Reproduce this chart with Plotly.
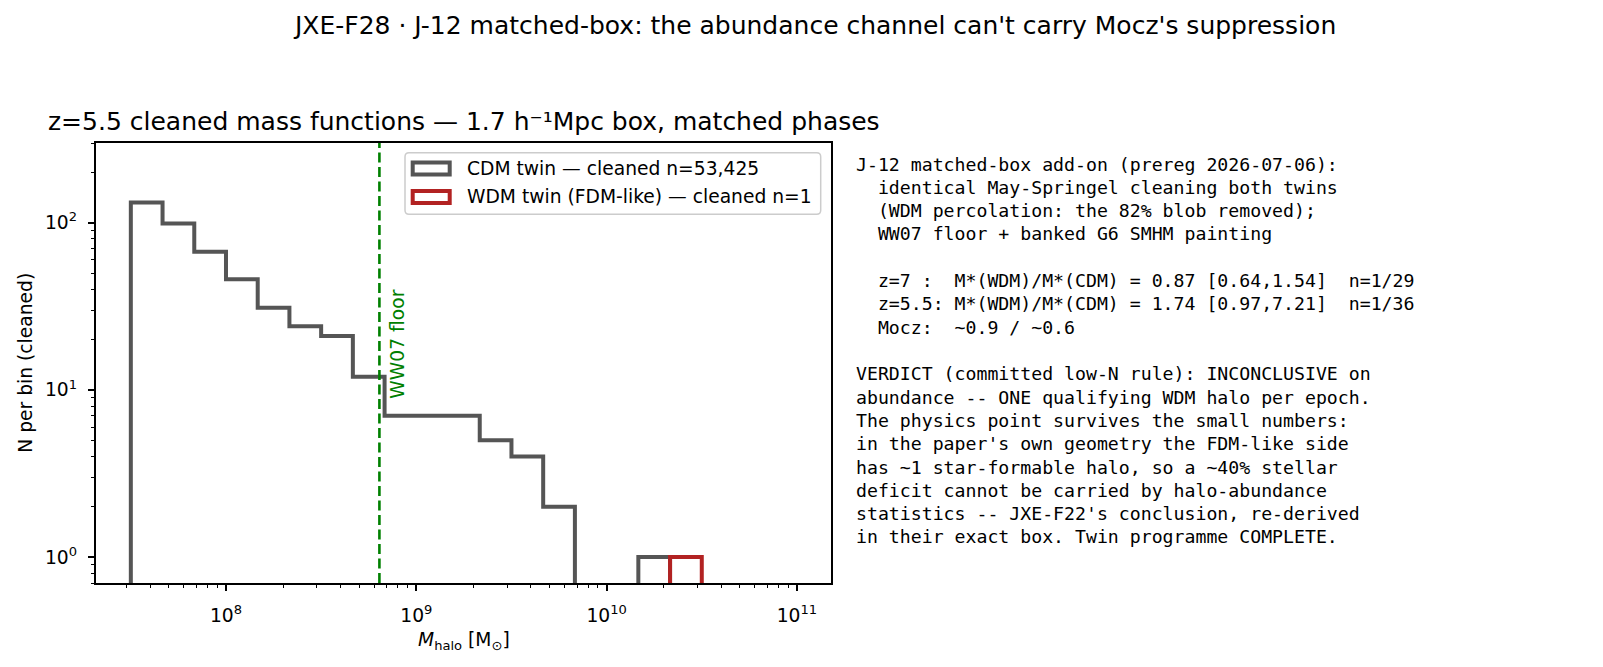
import numpy as np
import plotly.graph_objects as go

# histogram bins: 1/6 dex from 10^7.5
log_edges = [7.5 + i / 6 for i in range(22)]
cdm_counts = [132, 99, 67, 46, 31, 24, 21, 12, 7, 7, 7, 5, 4, 2, 0, 0, 1, 0, 0, 0, 0]
wdm_counts = [0, 0, 0, 0, 0, 0, 0, 0, 0, 0, 0, 0, 0, 0, 0, 0, 0, 1, 0, 0, 0]

cdm_label = "CDM twin \u2014 cleaned n=53,425"
wdm_label = "WDM twin (FDM-like) \u2014 cleaned n=1"
floor_mass = 6.4e8
floor_label = "WW07 floor"

x_major = [1e8, 1e9, 1e10, 1e11]
x_major_text = ["10<sup>8</sup>", "10<sup>9</sup>", "10<sup>10</sup>", "10<sup>11</sup>"]
y_major = [1, 10, 100]
y_major_text = ["10<sup>0</sup>", "10<sup>1</sup>", "10<sup>2</sup>"]

suptitle = "JXE-F28 \u00b7 J-12 matched-box: the abundance channel can't carry Mocz's suppression"
ax_title = "z=5.5 cleaned mass functions \u2014 1.7 h\u207b\u00b9Mpc box, matched phases"

notes = [
    "J-12 matched-box add-on (prereg 2026-07-06):",
    "  identical May-Springel cleaning both twins",
    "  (WDM percolation: the 82% blob removed);",
    "  WW07 floor + banked G6 SMHM painting",
    "",
    "  z=7 :  M*(WDM)/M*(CDM) = 0.87 [0.64,1.54]  n=1/29",
    "  z=5.5: M*(WDM)/M*(CDM) = 1.74 [0.97,7.21]  n=1/36",
    "  Mocz:  ~0.9 / ~0.6",
    "",
    "VERDICT (committed low-N rule): INCONCLUSIVE on",
    "abundance -- ONE qualifying WDM halo per epoch.",
    "The physics point survives the small numbers:",
    "in the paper's own geometry the FDM-like side",
    "has ~1 star-formable halo, so a ~40% stellar",
    "deficit cannot be carried by halo-abundance",
    "statistics -- JXE-F22's conclusion, re-derived",
    "in their exact box. Twin programme COMPLETE.",
]

W, H = 1603, 667
AX_L, AX_R, AX_T, AX_B = 96, 831, 143, 583
SANS = "DejaVu Sans"
MONO = "DejaVu Sans Mono"
FS = 18.7
TFS = 25
GRAY = "#555555"
RED = "#b22222"


def px(x):
    return x / W


def py(y):
    return 1 - y / H


def step_xy(counts):
    # matplotlib-like step outline; empty bins drop below the axis
    edges = [10 ** e for e in log_edges]
    ys = [c if c > 0 else 0.1 for c in counts]
    xs = [edges[0]] + edges
    ys = [0.1] + ys + [0.1]
    return xs, ys


def rounded_rect(x0, y0, x1, y1, r):
    a, b, c, d = px(x0), px(x1), py(y0), py(y1)
    rx, ry = r / W, r / H
    return (f"M{a+rx},{c} L{b-rx},{c} Q{b},{c} {b},{c-ry} L{b},{d+ry} Q{b},{d} {b-rx},{d} "
            f"L{a+rx},{d} Q{a},{d} {a},{d+ry} L{a},{c-ry} Q{a},{c} {a+rx},{c} Z")


fig = go.Figure()
for counts, color, name in [(cdm_counts, GRAY, cdm_label), (wdm_counts, RED, wdm_label)]:
    xs, ys = step_xy(counts)
    fig.add_trace(go.Scatter(x=xs, y=ys, mode="lines", line=dict(color=color, width=4, shape="hv"),
                             name=name, showlegend=False, hoverinfo="skip"))

fig.add_shape(type="line", xref="x", yref="paper", x0=floor_mass, x1=floor_mass,
              y0=py(AX_B), y1=py(AX_T), line=dict(color="green", width=2.6, dash="10px,4.5px"))
fig.add_annotation(x=np.log10(floor_mass) + 0.097, y=0.938, xref="x", yref="y", text=floor_label,
                   textangle=-90, showarrow=False, xanchor="center", yanchor="bottom",
                   font=dict(family=SANS, size=FS, color="green"))

# legend drawn by hand to get matplotlib-style patch handles
fig.add_shape(type="path", xref="paper", yref="paper", path=rounded_rect(405, 152.7, 820.7, 214.3, 4),
              line=dict(color="#cccccc", width=1.5), fillcolor="rgba(255,255,255,0.8)")
for (top, color, name, ty) in [(162.5, GRAY, cdm_label, 168.3), (191, RED, wdm_label, 196.7)]:
    fig.add_shape(type="rect", xref="paper", yref="paper", x0=px(412.7), x1=px(449.7),
                  y0=py(top), y1=py(top + 12), line=dict(color=color, width=4), fillcolor="white")
    fig.add_annotation(x=px(465), y=py(ty), xref="paper", yref="paper", text=name, showarrow=False,
                       xanchor="left", yanchor="middle", font=dict(family=SANS, size=FS, color="black"))

fig.add_annotation(x=px(815), y=py(42), xref="paper", yref="paper", text=suptitle, showarrow=False,
                   xanchor="center", yanchor="bottom", font=dict(family=SANS, size=TFS, color="black"))
fig.add_annotation(x=px((AX_L + AX_R) / 2), y=py(138.5), xref="paper", yref="paper", text=ax_title,
                   showarrow=False, xanchor="center", yanchor="bottom",
                   font=dict(family=SANS, size=TFS, color="black"))
fig.add_annotation(x=px((AX_L + AX_R) / 2), y=py(641), xref="paper", yref="paper",
                   text="<i>M</i><sub>halo</sub> [M<sub>\u2299</sub>]", showarrow=False,
                   xanchor="center", yanchor="middle", font=dict(family=SANS, size=FS, color="black"))
fig.add_annotation(x=px(24.7), y=py((AX_T + AX_B) / 2), xref="paper", yref="paper",
                   text="N per bin (cleaned)", textangle=-90, showarrow=False,
                   xanchor="center", yanchor="middle", font=dict(family=SANS, size=FS, color="black"))

# notes block, one annotation per line (matplotlib line spacing)
for i, line in enumerate(notes):
    if not line:
        continue
    fig.add_annotation(x=px(854.3), y=py(164.1 + i * 23.3), xref="paper", yref="paper",
                       text=line.replace(" ", "\u00a0"), showarrow=False,
                       xanchor="left", yanchor="middle", align="left",
                       font=dict(family=MONO, size=18.2, color="black"))

x_minor = [m * 10 ** k for k in range(7, 11) for m in range(2, 10)]
y_minor = [m * 10 ** k for k in range(-1, 3) for m in range(2, 10)]
axis_common = dict(type="log", showline=True, mirror=True, linecolor="black", linewidth=1.5,
                   showgrid=False, zeroline=False, ticks="outside", ticklen=6.5, tickwidth=1.5,
                   tickcolor="black", tickmode="array",
                   tickfont=dict(family=SANS, size=FS, color="black"))
fig.update_layout(
    width=W, height=H, margin=dict(l=0, r=0, t=0, b=0),
    paper_bgcolor="white", plot_bgcolor="white", showlegend=False,
    xaxis=dict(axis_common, domain=[px(AX_L), px(AX_R)],
               range=[7.317, 11.179],
               tickvals=x_major, ticktext=x_major_text, ticklabelstandoff=8,
               minor=dict(tickvals=x_minor, ticks="outside", ticklen=3.7, tickwidth=1.1,
                          tickcolor="black", showgrid=False)),
    yaxis=dict(axis_common, domain=[py(AX_B), py(AX_T)],
               range=[np.log10(0.7), np.log10(300)],
               tickvals=y_major, ticktext=y_major_text, ticklabelstandoff=7,
               minor=dict(tickvals=y_minor, ticks="outside", ticklen=3.7, tickwidth=1.1,
                          tickcolor="black", showgrid=False)),
)

fig.write_html("out.html", config={"displayModeBar": False},
               post_script="document.body.style.margin='0';")
